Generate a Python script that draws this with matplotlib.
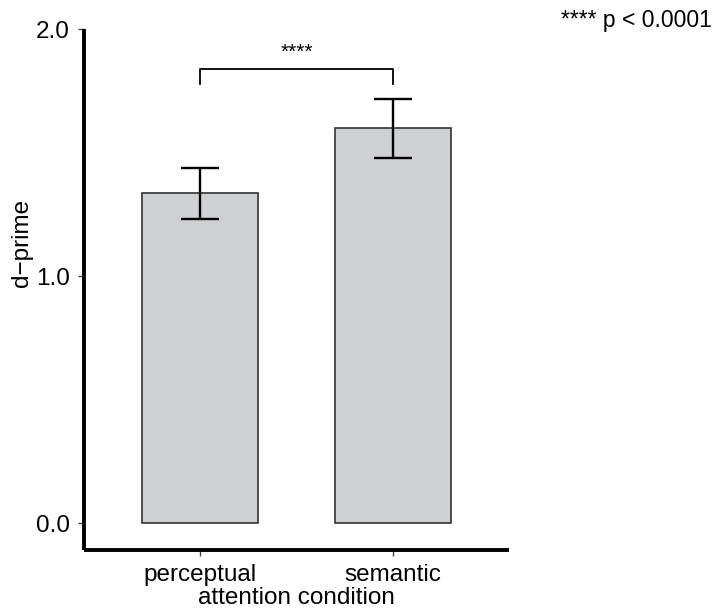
import matplotlib
matplotlib.use("Agg")
import matplotlib.pyplot as plt
import numpy as np

plt.rcParams['font.family'] = ['Liberation Sans', 'DejaVu Sans']

categories = ["perceptual", "semantic"]
means = [1.336, 1.599]
err_low = [1.231, 1.478]
err_high = [1.437, 1.717]
yticks = [0.0, 1.0, 2.0]
ytick_labels = ["0.0", "1.0", "2.0"]
bracket_y = 1.838
bracket_leg = 1.777
sig_label = "****"
note = "**** p < 0.0001"

fig = plt.figure(figsize=(7.15, 6.13), dpi=100)
ax = fig.add_axes([84/715, 63/613, (509-84)/715, (550-29)/613])

x = np.arange(len(categories))
ax.bar(x, means, width=0.6, color="#cdd1d1", edgecolor="#333333", linewidth=1.2, zorder=2)
yerr = np.array([np.array(means) - np.array(err_low), np.array(err_high) - np.array(means)])
ax.errorbar(x, means, yerr=yerr, fmt="none", ecolor="black", elinewidth=1.7,
            capsize=14, capthick=1.7, zorder=3)

ax.plot([0, 0, 1, 1], [bracket_leg, bracket_y, bracket_y, bracket_leg], color="black", lw=1.3, zorder=3)
ax.text(0.5, 1.907, sig_label, ha="center", va="center", fontsize=15)

ax.set_xlim(-0.6, 1.6)
ax.set_ylim(-0.1093, 2.0)
ax.set_xticks(x)
ax.set_xticklabels(categories, fontsize=17.5, color="black")
ax.set_yticks(yticks)
ax.set_yticklabels(ytick_labels, fontsize=17.5, color="black")
ax.tick_params(axis="both", length=4, width=1, color="#444444", pad=6)

for s in ["top", "right"]:
    ax.spines[s].set_visible(False)
for s in ["left", "bottom"]:
    ax.spines[s].set_linewidth(2.8)
    ax.spines[s].set_color("black")
    ax.spines[s].set_capstyle("butt")

ax.set_xlabel("attention condition", fontsize=17.5, labelpad=1)
fig.text(22/715, 1 - 243/613, "d\u2212prime", rotation=90, ha="center", va="center", fontsize=17.5)
fig.text(712/715, 1 - 21/613, note, ha="right", va="center", fontsize=16.5)

fig.savefig("out.png", dpi=100)
